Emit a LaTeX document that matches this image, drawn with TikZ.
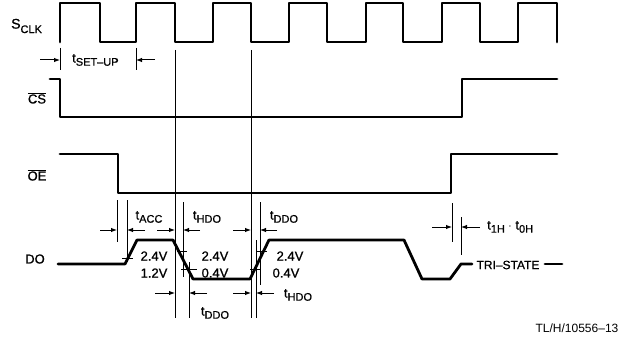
\documentclass[tikz,border=0pt]{standalone}
\usepackage{fontspec}
\setmainfont{Liberation Sans}[FakeBold=0.9]
\newfontfamily\plainsans{Liberation Sans}[Ligatures=TeX]
\usetikzlibrary{arrows.meta}
\newcommand{\sbs}[1]{\raisebox{-0.45ex}{\fontsize{11}{11}\selectfont #1}}
\newcommand{\ovl}[1]{$\overline{\hbox{#1}}$}
\begin{document}
\begin{tikzpicture}[x=1pt,y=-1pt,
  sig/.style={line width=2.8pt, line join=round, line cap=round},
  guide/.style={line width=1pt},
  thr/.style={line width=1pt},
  dim/.style={line width=1pt, -{Latex[length=6pt,width=4.5pt]}},
  lbl/.style={font=\fontsize{13}{15}\selectfont, inner sep=0pt},
  sml/.style={font=\fontsize{13}{14}\selectfont, inner sep=0pt},
  ]
\useasboundingbox (0,0) rectangle (629,345);

% clock
\draw[sig] (60,42) -- (60,3) -- (100,3) -- (100,42) -- (136,42) -- (136,3) -- (175,3) -- (175,42)
  -- (213,42) -- (213,3) -- (251,3) -- (251,42) -- (289,42) -- (289,3) -- (327,3) -- (327,42)
  -- (366,42) -- (366,3) -- (403,3) -- (403,42) -- (442,42) -- (442,3) -- (480,3) -- (480,42)
  -- (518,42) -- (518,3) -- (557,3) -- (557,42);
% CS
\draw[sig] (50,79) -- (60,79) -- (60,117) -- (462,117) -- (462,79) -- (557,79);
% OE
\draw[sig] (60,154) -- (118,154) -- (118,193) -- (451,193) -- (451,154) -- (557,154);
% DO
\draw[sig] (58,264) -- (125,264) -- (137,240) -- (173,240) -- (193,279) -- (250,279) -- (269,240)
  -- (404,240) -- (422,279) -- (450,279) -- (461,264) -- (472,264);
\draw[sig] (545,264) -- (562,264);

% guide lines
\draw[guide] (175,50) -- (175,318);
\draw[guide] (251,50) -- (251,318);
\draw[guide] (60,48) -- (60,70);
\draw[guide] (136,48) -- (136,70);
\draw[guide] (117,200) -- (117,242);
\draw[guide] (127,200) -- (127,262);
\draw[guide] (183,202) -- (183,277);
\draw[guide] (189,262) -- (189,318);
\draw[guide] (260,202) -- (260,285);
\draw[guide] (256,240) -- (256,318);
\draw[guide] (452,203) -- (452,242);
\draw[guide] (461,217) -- (461,255);

% threshold ticks
\draw[thr] (122,258) -- (133,258);
\draw[thr] (177,251) -- (187,251);
\draw[thr] (181,269) -- (197,269);
\draw[thr] (257,251) -- (267,251);
\draw[thr] (250,269) -- (261,269);

% dimension arrows
\draw[dim] (40,60) -- (60,60);
\draw[dim] (155,60) -- (136,60);
\draw[dim] (100,230) -- (117,230);
\draw[dim] (145,230) -- (127,230);
\draw[dim] (157,230) -- (175,230);
\draw[dim] (200,230) -- (183,230);
\draw[dim] (233,230) -- (251,230);
\draw[dim] (277,230) -- (260,230);
\draw[dim] (155,293) -- (175,293);
\draw[dim] (207,293) -- (189,293);
\draw[dim] (233,293) -- (251,293);
\draw[dim] (274,293) -- (256,293);
\draw[dim] (432,227) -- (452,227);
\draw[dim] (480,227) -- (461,227);

% labels
\node[lbl, anchor=west, font=\fontsize{14}{15}\selectfont] (sclk) at (11,26) {S\raisebox{-0.6ex}{\fontsize{11}{11}\selectfont CLK}};
\node[lbl] (cs) at (37,98) {\ovl{CS}};
\node[lbl] (oe) at (37,175) {\ovl{OE}};
\node[lbl] (do) at (35,259) {DO};
\node[lbl, anchor=west] (tsu) at (72,60) {t\sbs{SET–UP}};
\node[lbl] (tacc) at (149,217) {t\sbs{ACC}};
\node[lbl] (thdo1) at (207,217) {t\sbs{HDO}};
\node[lbl] (tddo1) at (284,217) {t\sbs{DDO}};
\node[lbl] (tddo2) at (215,313) {t\sbs{DDO}};
\node[lbl] (thdo2) at (298,295) {t\sbs{HDO}};
\node[sml] (v1a) at (154,256) {2.4V};
\node[sml] (v1b) at (154,273) {1.2V};
\node[sml] (v2a) at (215,256) {2.4V};
\node[sml] (v2b) at (215,273) {0.4V};
\node[sml] (v3a) at (290,256) {2.4V};
\node[sml] (v3b) at (286,273) {0.4V};
\node[lbl, anchor=west] (toh) at (487,227) {t\sbs{1H} $\cdot$ t\sbs{0H}};
\node[lbl, font=\fontsize{12}{14}\selectfont] (tri) at (508,265) {TRI–STATE};
\node[lbl, font=\fontsize{12}{14}\plainsans] (ref) at (577,328) {TL/H/10556–13};
\end{tikzpicture}
\end{document}
